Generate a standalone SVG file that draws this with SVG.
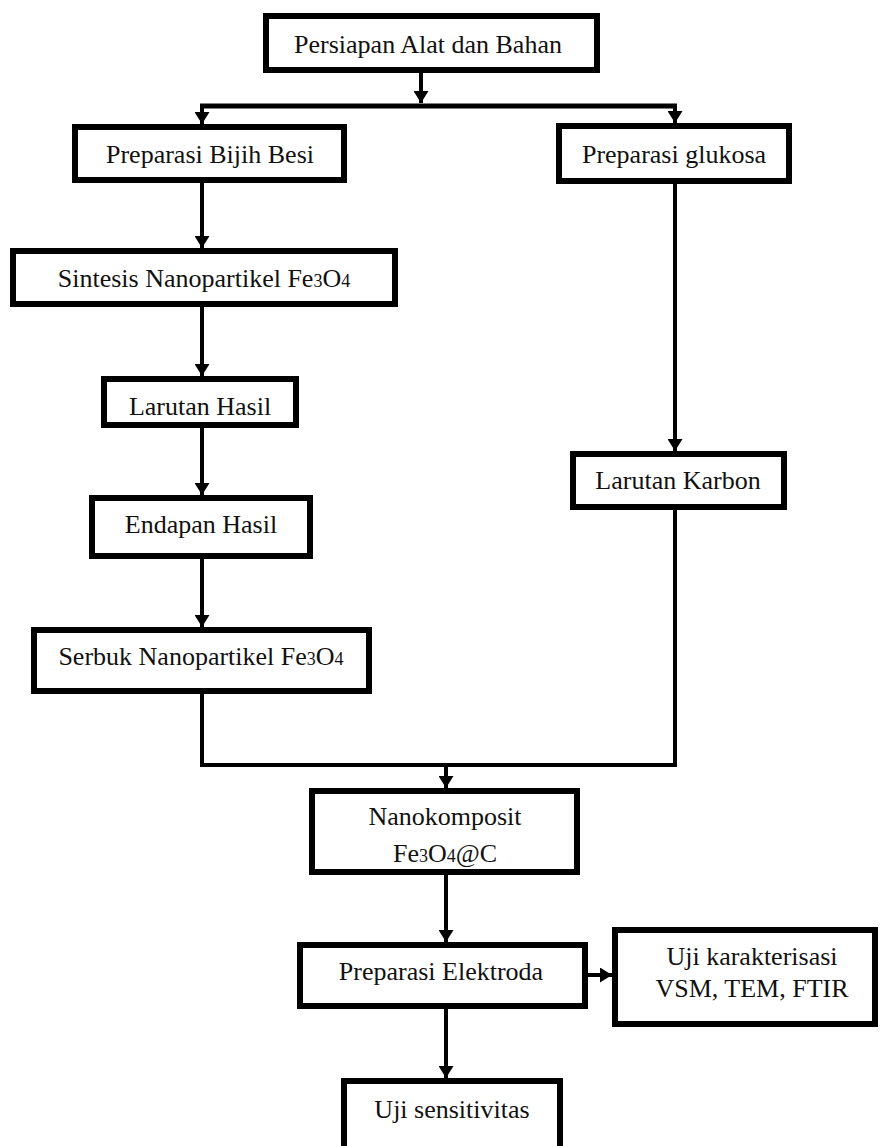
<svg xmlns="http://www.w3.org/2000/svg" width="880" height="1146" viewBox="0 0 880 1146">
<style>
.box{fill:#fff;stroke:#000;stroke-width:6}
.t{font-family:'Liberation Serif','DejaVu Serif',serif;font-size:26px;fill:#111;text-anchor:middle}
.s{font-size:18px}
.c{fill:none;stroke:#000;stroke-width:4}
.ca{fill:none;stroke:#000;stroke-width:4;marker-end:url(#ah)}
</style>
<defs>
<marker id="ah" markerUnits="userSpaceOnUse" viewBox="0 0 12 15" refX="12" refY="7.5" markerWidth="12" markerHeight="15" orient="auto">
<path d="M0,0 L12,7.5 L0,15 z" fill="#000"/>
</marker>
</defs>
<rect width="880" height="1146" fill="#fff"/>
<g id="connectors">
<path class="ca" d="M421,73 V103"/>
<path class="c" d="M200,106 H677" style="stroke-width:5"/>
<path class="ca" d="M202,106 V124"/>
<path class="ca" d="M675,106 V123"/>
<path class="ca" d="M202,183 V248"/>
<path class="ca" d="M202,307 V376"/>
<path class="ca" d="M202,428 V495"/>
<path class="ca" d="M202,559 V627"/>
<path class="ca" d="M675,184 V451"/>
<path class="c" d="M202,694 V765 H675 V507"/>
<path class="ca" d="M446,765 V788"/>
<path class="ca" d="M446,875 V942"/>
<path class="ca" d="M588,975 H612"/>
<path class="ca" d="M446,1009 V1078"/>
</g>
<g font-family="Liberation Serif, serif">
<g id="n-persiapan"><rect class="box" x="266" y="16" width="331" height="54"/><text class="t" x="428" y="53">Persiapan Alat dan Bahan</text></g>
<g id="n-bijih"><rect class="box" x="75" y="127" width="269" height="53"/><text class="t" x="210" y="163">Preparasi Bijih Besi</text></g>
<g id="n-glukosa"><rect class="box" x="559" y="126" width="230" height="55"/><text class="t" x="674" y="163">Preparasi glukosa</text></g>
<g id="n-sintesis"><rect class="box" x="13" y="251" width="382" height="53"/><text class="t" x="204" y="287">Sintesis Nanopartikel Fe<tspan class="s">3</tspan>O<tspan class="s">4</tspan></text></g>
<g id="n-larutan-hasil"><rect class="box" x="104" y="379" width="192" height="46"/><text class="t" x="200" y="415">Larutan Hasil</text></g>
<g id="n-endapan"><rect class="box" x="92" y="498" width="218" height="58"/><text class="t" x="201" y="533">Endapan Hasil</text></g>
<g id="n-serbuk"><rect class="box" x="34" y="630" width="335" height="61"/><text class="t" x="201" y="665">Serbuk Nanopartikel Fe<tspan class="s">3</tspan>O<tspan class="s">4</tspan></text></g>
<g id="n-karbon"><rect class="box" x="573" y="454" width="211" height="53"/><text class="t" x="678" y="489">Larutan Karbon</text></g>
<g id="n-nanokomposit"><rect class="box" x="312" y="791" width="265" height="81"/><text class="t" x="445" y="825">Nanokomposit</text><text class="t" x="445" y="862">Fe<tspan class="s">3</tspan>O<tspan class="s">4</tspan>@C</text></g>
<g id="n-elektroda"><rect class="box" x="300" y="945" width="285" height="61"/><text class="t" x="441" y="980">Preparasi Elektroda</text></g>
<g id="n-karakterisasi"><rect class="box" x="615" y="930" width="260" height="94"/><text class="t" x="752" y="965">Uji karakterisasi</text><text class="t" x="752" y="997">VSM, TEM, FTIR</text></g>
<g id="n-sensitivitas"><rect class="box" x="344" y="1081" width="216" height="80"/><text class="t" x="452" y="1118">Uji sensitivitas</text></g>
</g>
</svg>
